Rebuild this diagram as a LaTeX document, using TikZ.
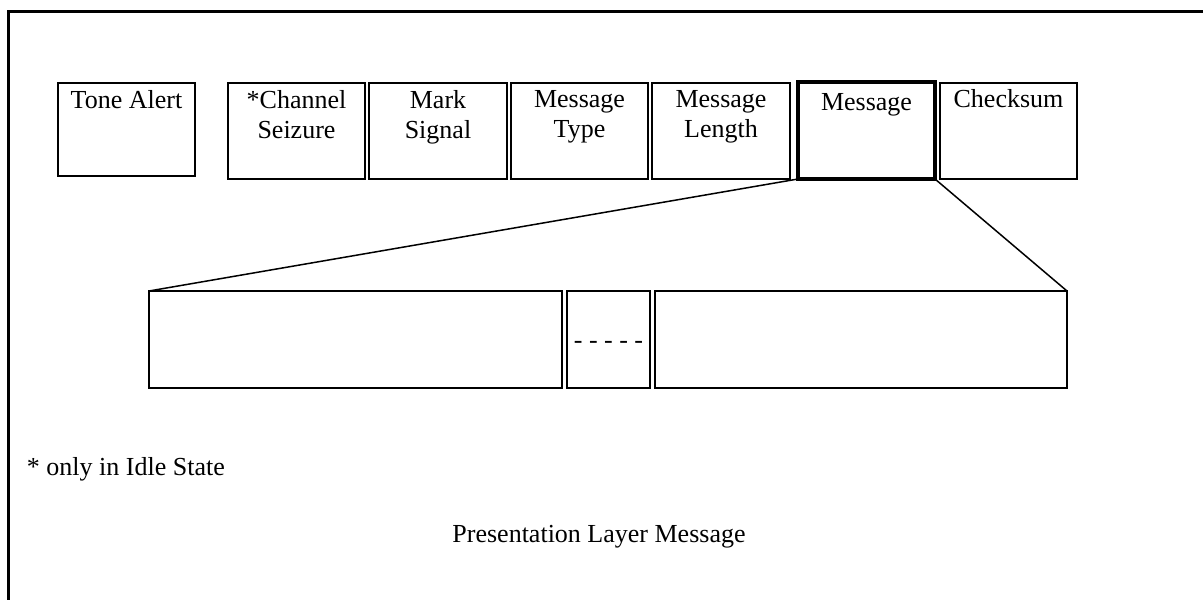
\documentclass[tikz,border=0pt]{standalone}
\usepackage{fontspec}
\setmainfont{Liberation Serif}
\begin{document}
\begin{tikzpicture}[x=1pt,y=-1pt,
  field/.style={draw, line width=1.5pt, inner sep=0pt, outer sep=0pt, minimum width=137pt, minimum height=96pt},
  thickfield/.style={field, line width=4pt},
  txt/.style={inner sep=0pt, outer sep=0pt, align=center, font=\fontsize{26}{30}\selectfont},
  lead/.style={line width=1.5pt}]
\useasboundingbox (0,0) rectangle (1203,600);
\begin{scope}
\clip (0,0) rectangle (1203,600);
\draw[line width=3pt] (8,620) -- (8,11) -- (1220,11);
\end{scope}
% top row
\node[field, minimum height=93pt] (ta) at (126.5,129.5) {};
\node[field] (cs) at (296.5,131) {};
\node[field, minimum width=138pt] (ms) at (438,131) {};
\node[field] (mt) at (579.5,131) {};
\node[field, minimum width=138pt] (ml) at (721,131) {};
\node[thickfield, minimum height=97pt] (msg) at (866.5,130.5) {};
\node[field] (ck) at (1008.5,131) {};
\node[txt, anchor=north] (tat) at (126.5,90) {Tone Alert};
\node[txt, anchor=north] (cst) at (296.5,90) {*Channel\\Seizure};
\node[txt, anchor=north] (mst) at (438,90) {Mark\\Signal};
\node[txt, anchor=north] (mtt) at (579.5,90) {Message\\Type};
\node[txt, anchor=north] (mlt) at (721,90) {Message\\Length};
\node[txt, anchor=north] (msgt) at (866.5,93) {Message};
\node[txt, anchor=north] (ckt) at (1008.5,89) {Checksum};
% bottom row
\node[field, minimum width=413pt, minimum height=97pt] (b1) at (355.5,339.5) {};
\node[field, minimum width=83pt, minimum height=97pt] (b2) at (608.5,339.5) {};
\node[field, minimum width=412pt, minimum height=97pt] (b3) at (861,339.5) {};
\node[txt] (dots) at (608.5,345) {- - - - -};
% leaders
\draw[lead] (msg.south west) -- (b1.north west);
\draw[lead] (msg.south east) -- (b3.north east);
% notes
\node[txt, anchor=base west] (note) at (27,475) {* only in Idle State};
\node[txt, anchor=base] (cap) at (599,542) {Presentation Layer Message};
\end{tikzpicture}
\end{document}
